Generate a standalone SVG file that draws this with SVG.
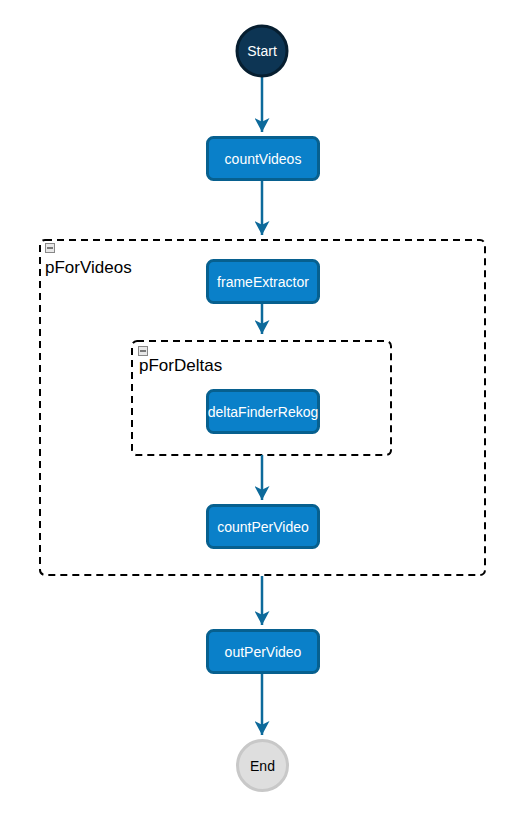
<svg xmlns="http://www.w3.org/2000/svg" width="511" height="821" viewBox="0 0 511 821">
<style>
.task rect{fill:#0a80c9;stroke:#07608f;stroke-width:3}
.task text{fill:#fff;font-family:"Liberation Sans",Arial,sans-serif;font-size:14px;text-anchor:middle}
.cont{fill:none;stroke:#000;stroke-width:2;stroke-dasharray:7,5}
.clabel{fill:#000;font-family:"Liberation Sans",Arial,sans-serif;font-size:17px}
.icon{fill:#e8e8e8;stroke:#888;stroke-width:1}
.conn line{stroke:#0d6a9b;stroke-width:2.5}
</style>
<defs>
<marker id="ah" markerWidth="16" markerHeight="15" refX="15" refY="8" orient="auto" markerUnits="userSpaceOnUse" viewBox="0 0 15 16">
<path d="M0,0 L15,8 L0,16 L4,8 Z" fill="#0d6a9b"/>
</marker>
</defs>
<g id="pForVideos">
<rect class="cont" x="40" y="240" width="445" height="335" rx="5"/>
<rect class="icon" x="45.5" y="243.5" width="9" height="9"/>
<line x1="47" y1="248" x2="53" y2="248" stroke="#555" stroke-width="1.5"/>
<text class="clabel" x="45" y="273">pForVideos</text>
</g>
<g id="pForDeltas">
<rect class="cont" x="132" y="341" width="259" height="114" rx="5"/>
<rect class="icon" x="138.5" y="346.5" width="9" height="9"/>
<line x1="140" y1="351" x2="146" y2="351" stroke="#555" stroke-width="1.5"/>
<text class="clabel" x="139" y="371">pForDeltas</text>
</g>
<g class="conn" id="connectors">
<line x1="262" y1="77" x2="262" y2="132" marker-end="url(#ah)"/>
<line x1="262" y1="180" x2="262" y2="235" marker-end="url(#ah)"/>
<line x1="262" y1="302" x2="262" y2="334" marker-end="url(#ah)"/>
<line x1="262" y1="455" x2="262" y2="500" marker-end="url(#ah)"/>
<line x1="262" y1="576" x2="262" y2="625" marker-end="url(#ah)"/>
<line x1="262" y1="672" x2="262" y2="735" marker-end="url(#ah)"/>
</g>
<g id="Start">
<circle cx="262" cy="51" r="25" fill="#0d3554" stroke="#061e30" stroke-width="3"/>
<text x="262" y="56" fill="#fff" font-family="'Liberation Sans',Arial,sans-serif" font-size="14" text-anchor="middle">Start</text>
</g>
<g id="countVideos" class="task">
<rect x="207.5" y="137.5" width="111" height="42" rx="6"/>
<text x="263" y="163.5">countVideos</text>
</g>
<g id="frameExtractor" class="task">
<rect x="207.5" y="260.5" width="111" height="42" rx="6"/>
<text x="263" y="286.5">frameExtractor</text>
</g>
<g id="deltaFinderRekog" class="task">
<rect x="207.5" y="390.5" width="111" height="42" rx="6"/>
<text x="263" y="416.5">deltaFinderRekog</text>
</g>
<g id="countPerVideo" class="task">
<rect x="207.5" y="505.5" width="111" height="42" rx="6"/>
<text x="263" y="531.5">countPerVideo</text>
</g>
<g id="outPerVideo" class="task">
<rect x="207.5" y="630.5" width="111" height="42" rx="6"/>
<text x="263" y="656.5">outPerVideo</text>
</g>
<g id="End">
<circle cx="262.5" cy="765.5" r="25" fill="#dedede" stroke="#c8c8c8" stroke-width="3"/>
<text x="262.5" y="770.5" fill="#000" font-family="'Liberation Sans',Arial,sans-serif" font-size="14" text-anchor="middle">End</text>
</g>
</svg>
